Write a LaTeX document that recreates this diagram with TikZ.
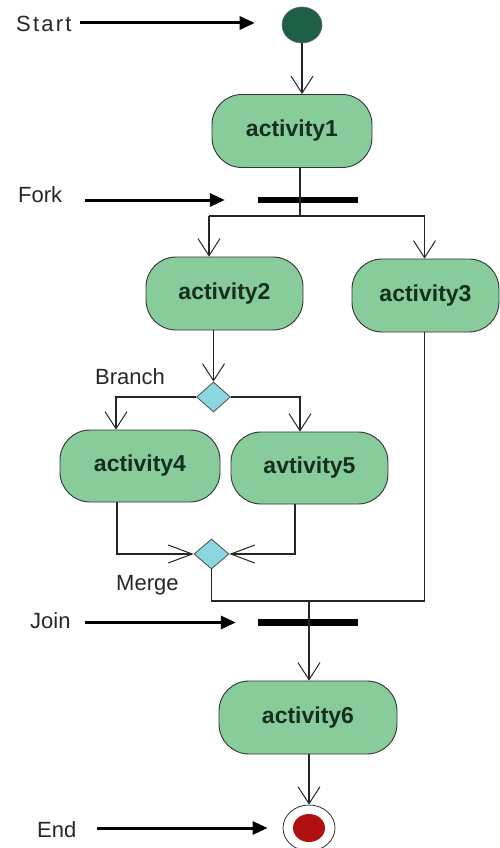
\documentclass[tikz,border=0pt]{standalone}
\usepackage{fontspec}
\setmainfont{Liberation Sans}
\usetikzlibrary{arrows.meta,shapes.geometric}
\definecolor{actfill}{RGB}{136,204,156}
\definecolor{acttext}{RGB}{22,48,30}
\definecolor{startfill}{RGB}{30,95,72}
\definecolor{diafill}{RGB}{140,214,224}
\definecolor{endred}{RGB}{176,16,16}
\begin{document}
\begin{tikzpicture}[x=1pt,y=-1pt,
  act/.style={draw=black!80, line width=0.9pt, fill=actfill, rounded corners=30pt,
    minimum height=73pt, inner sep=0pt, font=\fontsize{23}{27}\selectfont\bfseries, text=acttext},
  lbl/.style={anchor=base west, inner sep=0pt, font=\fontsize{22}{26}\selectfont, text=black!85},
  flow/.style={line width=1.2pt, draw=black!85},
  open/.style={flow, -{Straight Barb[length=17pt,width=22pt,line width=1pt]}},
  mopen/.style={flow, -{Straight Barb[length=24pt,width=18pt,line width=1pt]}},
  ptr/.style={line width=3pt, draw=black, -{Triangle[length=15pt,width=13pt]}},
  barnode/.style={fill=black, inner sep=0pt, minimum width=100pt, minimum height=6.5pt},
  dia/.style={diamond, draw=black!70, fill=diafill, inner sep=0pt, line width=0.8pt}
]
\useasboundingbox (0,0) rectangle (499,848);

% nodes
\node[ellipse, fill=startfill, draw=black!60, line width=0.6pt, minimum width=40pt, minimum height=36pt, inner sep=0pt] (start) at (302,25) {};
\node[lbl, font=\fontsize{22}{26}\selectfont\addfontfeature{LetterSpace=10}] (startlbl) at (16,32) {Start};

\node[act, minimum width=160pt] (a1) at (292,131) {activity1};

\node[barnode] (fork) at (308,200) {};
\node[lbl] (forklbl) at (18,202) {Fork};

\node[act, minimum width=157pt] (a2) at (224.5,293.5) {activity2};
\node[act, minimum width=147pt] (a3) at (425.5,295.5) {activity3};

\node[dia, minimum width=34pt, minimum height=30pt] (branch) at (213.5,397) {};
\node[lbl] (branchlbl) at (95,384) {Branch};

\node[act, minimum width=160pt, minimum height=72pt] (a4) at (140,466) {activity4};
\node[act, minimum width=157pt, minimum height=72pt] (a5) at (309.5,468) {avtivity5};

\node[dia, minimum width=35pt, minimum height=30pt] (merge) at (211.5,554) {};
\node[lbl] (mergelbl) at (116,590) {Merge};

\node[barnode] (join) at (308,622.5) {};
\node[lbl] (joinlbl) at (30,628) {Join};

\node[act, minimum width=178pt] (a6) at (308,717.5) {activity6};

\node[ellipse, draw=black!80, fill=white, line width=0.8pt, minimum width=52pt, minimum height=46pt, inner sep=0pt] (endn) at (309,828) {};
\node[ellipse, fill=endred, minimum width=32pt, minimum height=28pt, inner sep=0pt] (endin) at (endn.center) {};
\node[lbl] (endlbl) at (37,837) {End};

% junction coordinates
\coordinate (jf) at (300,216);
\coordinate (fl) at (209,216);
\coordinate (fr) at (424.5,216);
\coordinate (jn) at (309,601);

% flow connectors
\draw[open] (start.south) -- (start.south |- a1.north);
\draw[flow] (a1.south -| jf) -- (jf);
\draw[flow] (fl) -- (fr);
\draw[open] (fl) -- (fl |- a2.north);
\draw[open] (fr) -- (fr |- a3.north);
\draw[open] (branch.north |- a2.south) -- (branch.north);
\draw[open] (branch.west) -| ([xshift=-24pt]a4.north);
\draw[open] (branch.east) -| ([xshift=-9.5pt]a5.north);
\draw[mopen] ([xshift=-23pt]a4.south) |- (merge.west);
\draw[mopen] ([xshift=-14.5pt]a5.south) |- (merge.east);
\draw[flow] (merge.south) |- (jn);
\draw[flow] ([xshift=-1pt]a3.south) |- (jn);
\draw[open] (jn) -- (jn |- a6.north);
\draw[open] (a6.south -| endn) -- (endn.north);

% pointer arrows
\draw[ptr] ([xshift=8pt,yshift=2pt]startlbl.east |- start.center) -- ([xshift=-27pt,yshift=2pt]start.west);
\draw[ptr] ([xshift=23pt]forklbl.east |- fork.center) -- ([xshift=-33pt]fork.west);
\draw[ptr] ([xshift=14pt]joinlbl.east |- join.center) -- ([xshift=-22pt]join.west);
\draw[ptr] ([xshift=20pt]endlbl.east |- endn.center) -- ([xshift=-15pt]endn.west);
\end{tikzpicture}
\end{document}
